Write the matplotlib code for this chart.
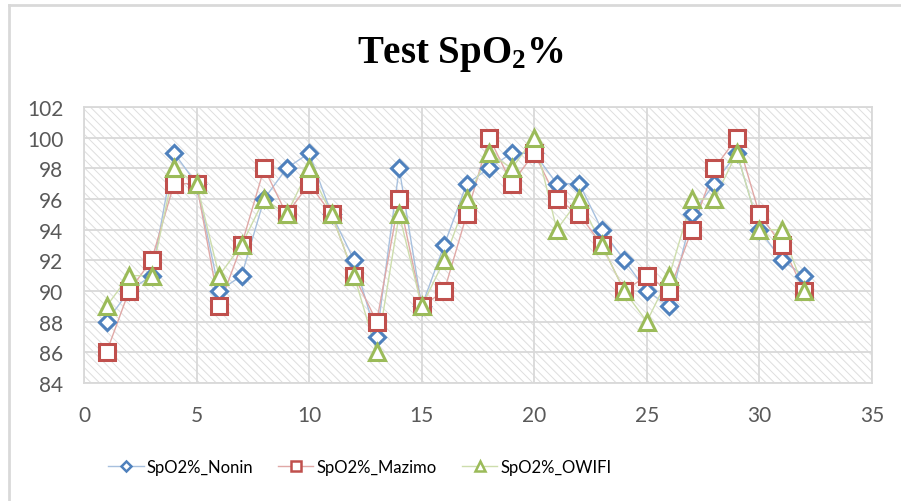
import matplotlib
matplotlib.use("Agg")
import matplotlib.pyplot as plt
from matplotlib.lines import Line2D
from matplotlib.patches import Rectangle

# Data
sample = list(range(1, 33))
nonin = [88, 90, 91, 99, 97, 90, 91, 96, 98, 99, 95, 92, 87, 98, 89, 93,
         97, 98, 99, 99, 97, 97, 94, 92, 90, 89, 95, 97, 99, 94, 92, 91]
mazimo = [86, 90, 92, 97, 97, 89, 93, 98, 95, 97, 95, 91, 88, 96, 89, 90,
          95, 100, 97, 99, 96, 95, 93, 90, 91, 90, 94, 98, 100, 95, 93, 90]
owifi = [89, 91, 91, 98, 97, 91, 93, 96, 95, 98, 95, 91, 86, 95, 89, 92,
         96, 99, 98, 100, 94, 96, 93, 90, 88, 91, 96, 96, 99, 94, 94, 90]
labels = ["SpO2%_Nonin", "SpO2%_Mazimo", "SpO2%_OWIFI"]
xticks = list(range(0, 36, 5))
yticks = list(range(84, 103, 2))

plt.rcParams["hatch.linewidth"] = 0.7
plt.rcParams["mathtext.fontset"] = "custom"
plt.rcParams["mathtext.rm"] = "Liberation Serif:bold"
plt.rcParams["mathtext.it"] = "Liberation Serif:bold"
plt.rcParams["mathtext.bf"] = "Liberation Serif:bold"

fig = plt.figure(figsize=(9.01, 5.02), dpi=100)
ax = fig.add_axes([84 / 901, 1 - 384 / 502, (872 - 84) / 901, (384 - 108) / 502])

# hatched plot background
ax.add_patch(Rectangle((0, 0), 1, 1, transform=ax.transAxes, facecolor="white",
                       edgecolor="#dedede", hatch="\\\\\\\\", lw=0, zorder=0))

# Outer chart border (top and left visible)
fig.add_artist(Line2D([9 / 901, 1.0], [1 - 6 / 502, 1 - 6 / 502], color="#d9d9d9", lw=2))
fig.add_artist(Line2D([9 / 901, 9 / 901], [0.0, 1 - 6 / 502], color="#d9d9d9", lw=2))

styles = [
    (nonin, "#4f81bd", "#a7c0de", "D", 8.5),
    (mazimo, "#c0504d", "#e0a8a6", "s", 12),
    (owifi, "#9bbb59", "#cdddac", "^", 12),
]
for (vals, color, lcolor, marker, ms), label in zip(styles, labels):
    ax.plot(sample, vals, color=lcolor, lw=1, zorder=3)
    ax.plot(sample, vals, linestyle="none", marker=marker, markersize=ms,
            markerfacecolor="white", markeredgecolor=color, markeredgewidth=2.2, zorder=4)

ax.set_xlim(0, 35)
ax.set_ylim(84, 102)
ax.set_xticks(xticks)
ax.set_yticks(yticks)
ax.grid(True, color="#d9d9d9", lw=1.3, zorder=1)
ax.set_axisbelow(True)
for s in ax.spines.values():
    s.set_color("#d9d9d9")
    s.set_linewidth(1.3)
ax.tick_params(length=0, labelsize=15, labelcolor="#595959")
ax.tick_params(axis="x", pad=16)
ax.tick_params(axis="y", pad=15)
for t in ax.get_xticklabels() + ax.get_yticklabels():
    t.set_fontfamily("Lato")

fig.text(460 / 901, 1 - 55 / 502, r"Test SpO$_2$%", ha="center", va="center",
         fontsize=28, fontweight="bold", family="Liberation Serif")

handles = [
    Line2D([], [], color=lc, lw=1, marker=m, markersize=7 if m != "D" else 5.5,
           markerfacecolor="white", markeredgecolor=c, markeredgewidth=1.8)
    for _, c, lc, m, _ in styles
]
fig.legend(handles, labels, loc="center", bbox_to_anchor=(360 / 901, 1 - 468 / 502),
           ncol=3, frameon=False, handlelength=2.1, columnspacing=1.5,
           handletextpad=0.2, prop={"family": "Lato", "size": 12})

fig.savefig("out.png", dpi=100)
